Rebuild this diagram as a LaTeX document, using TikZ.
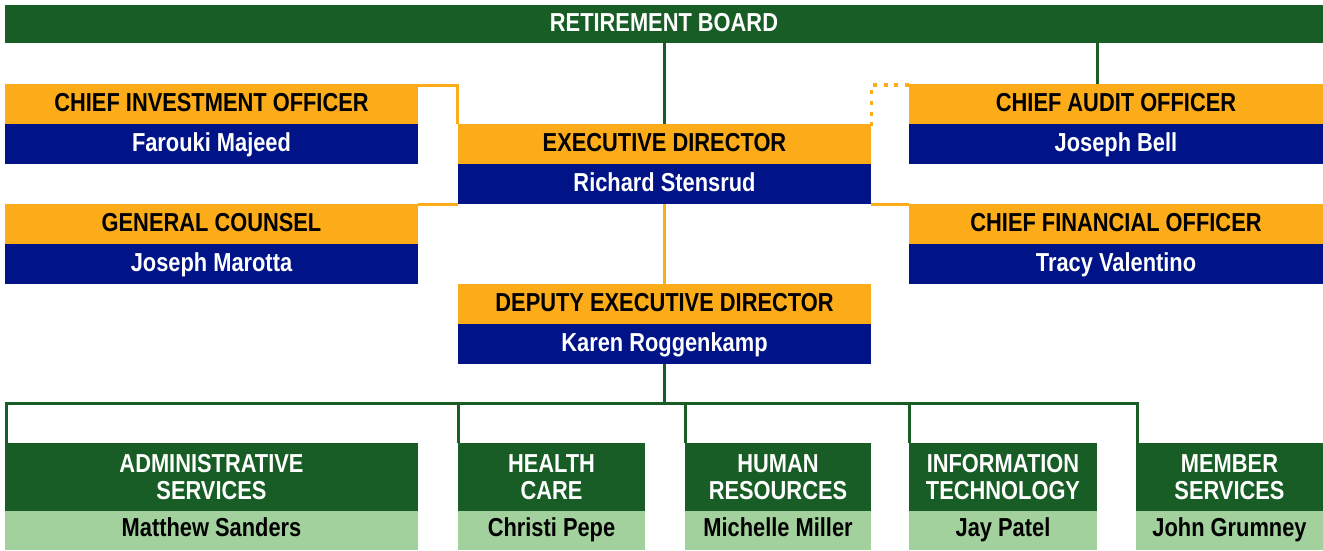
\documentclass[tikz,border=0pt]{standalone}
\usepackage{fontspec}
\setmainfont[FakeStretch=0.84]{Liberation Sans}
\definecolor{boardgreen}{RGB}{23,93,37}
\definecolor{gold}{RGB}{251,172,24}
\definecolor{navy}{RGB}{0,20,136}
\definecolor{leaf}{RGB}{163,209,157}
\begin{document}
\begin{tikzpicture}[x=1pt,y=-1pt,
    box/.style={anchor=north west,inner sep=0,outer sep=0,align=center,
      minimum height=40pt,text height=19pt,text depth=5pt,
      font=\bfseries\fontsize{26}{27.5}\selectfont},
    role/.style={box,fill=gold},
    person/.style={box,fill=navy,text=white},
    unit/.style={box,fill=boardgreen,text=white,minimum height=68pt,
      text height=,text depth=},
    staff/.style={box,fill=leaf,minimum height=39pt,text depth=7pt},
    goldline/.style={draw=gold,line width=3pt},
    greenline/.style={draw=boardgreen,line width=3pt}]
    \useasboundingbox (0,0) rectangle (1323,550);

    \node[box,fill=boardgreen,text=white,minimum width=1318pt,minimum height=38pt](board) at (5, 5) {RETIREMENT BOARD};

    % officers around the director
    \node[role,minimum width=413pt](cioH) at (5, 84) {CHIEF INVESTMENT OFFICER};
    \node[person,minimum width=413pt](cioN) at (5, 124) {Farouki Majeed};
    \node[role,minimum width=414pt](caoH) at (909, 84) {CHIEF AUDIT OFFICER};
    \node[person,minimum width=414pt](caoN) at (909, 124) {Joseph Bell};
    \node[role,minimum width=413pt](edH) at (458, 124) {EXECUTIVE DIRECTOR};
    \node[person,minimum width=413pt](edN) at (458, 164) {Richard Stensrud};
    \node[role,minimum width=413pt](gcH) at (5, 204) {GENERAL COUNSEL};
    \node[person,minimum width=413pt](gcN) at (5, 244) {Joseph Marotta};
    \node[role,minimum width=414pt](cfoH) at (909, 204) {CHIEF FINANCIAL OFFICER};
    \node[person,minimum width=414pt](cfoN) at (909, 244) {Tracy Valentino};
    \node[role,minimum width=413pt](depH) at (458, 284) {DEPUTY EXECUTIVE DIRECTOR};
    \node[person,minimum width=413pt](depN) at (458, 324) {Karen Roggenkamp};

    % divisions
    \node[unit,minimum width=413pt](admH) at (5, 443) {ADMINISTRATIVE\\SERVICES};
    \node[staff,minimum width=413pt](admN) at (5, 511) {Matthew Sanders};
    \node[unit,minimum width=187pt](hcH) at (458, 443) {HEALTH\\CARE};
    \node[staff,minimum width=187pt](hcN) at (458, 511) {Christi Pepe};
    \node[unit,minimum width=186pt](hrH) at (685, 443) {HUMAN\\RESOURCES};
    \node[staff,minimum width=186pt](hrN) at (685, 511) {Michelle Miller};
    \node[unit,minimum width=188pt](itH) at (909, 443) {INFORMATION\\TECHNOLOGY};
    \node[staff,minimum width=188pt](itN) at (909, 511) {Jay Patel};
    \node[unit,minimum width=187pt](msH) at (1136, 443) {MEMBER\\SERVICES};
    \node[staff,minimum width=187pt](msN) at (1136, 511) {John Grumney};

    \coordinate (auditTap) at (1097, 84);
    \coordinate (bus) at (663, 403);

    \draw[greenline] (board.south -| edH.north) -- (edH.north);
    \draw[greenline] (board.south -| auditTap) -- (auditTap);

    \draw[goldline] ([yshift=-1]cioH.north east) -| ([xshift=-0.5]edH.north west);
    \draw[goldline,line width=3.5pt,dash pattern=on 4pt off 6.7pt]
      ([yshift=-1]caoH.north west) -| ([xshift=0.5,yshift=-3]edH.north east);
    \draw[goldline] (gcH.north east) -- (edN.south west);
    \draw[goldline] (edN.south east) -- (cfoH.north west);
    \draw[goldline] (edN.south) -- (depH.north);

    \draw[greenline] (depN.south) -- (bus -| depN.south);
    \draw[greenline] ([xshift=1.5]admH.north west) -- ([xshift=1.5]admH.north west |- bus)
      -| ([xshift=1]msH.north west);
    \draw[greenline] (hcH.north west) -- (hcH.north west |- bus);
    \draw[greenline] (hrH.north west) -- (hrH.north west |- bus);
    \draw[greenline] (itH.north west) -- (itH.north west |- bus);
  \end{tikzpicture}
\end{document}
